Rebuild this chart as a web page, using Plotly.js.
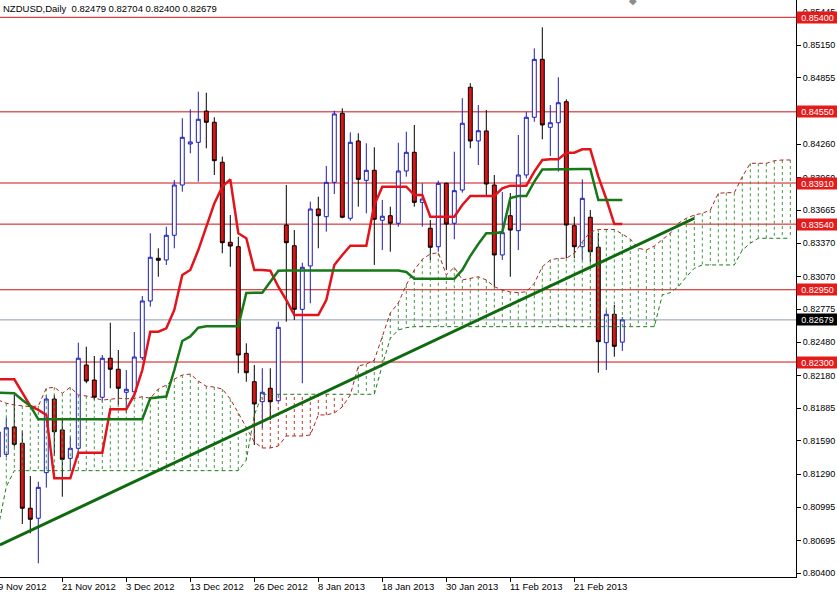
<!DOCTYPE html>
<html><head><meta charset="utf-8">
<script src="https://cdn.plot.ly/plotly-3.0.1.min.js"></script>
<style>html,body{margin:0;padding:0;background:#fff;}#chart{width:837px;height:593px;}</style>
</head><body><div id="chart"></div>
<script>
// ---- data ----
const tickIdx = [0, 8, 16, 24, 32, 40, 48, 56, 64, 72];
const tickLabels = ['9 Nov 2012','21 Nov 2012','3 Dec 2012','13 Dec 2012','26 Dec 2012','8 Jan 2013','18 Jan 2013','30 Jan 2013','11 Feb 2013','21 Feb 2013'];

const openP = [0.81446,0.81470,0.81716,0.81569,0.80985,0.80895,0.81305,0.81967,0.81689,0.81434,
0.81524,0.82273,0.82138,0.81983,0.82334,0.82235,0.82028,0.82033,0.82339,0.82849,
0.83233,0.83218,0.83440,0.83892,0.84261,0.84276,0.84557,0.84456,0.84096,0.83377,
0.83337,0.82378,0.82123,0.81943,0.82064,0.81952,0.83532,0.83346,0.82774,0.83164,
0.83676,0.83607,0.83916,0.84537,0.83593,0.84288,0.83934,0.84024,0.83575,0.83616,
0.83548,0.84018,0.84186,0.83736,0.83503,0.83337,0.83907,0.83548,0.83847,0.84771,
0.84288,0.84378,0.83892,0.83263,0.83616,0.83481,0.83982,0.84501,0.85022,0.84411,
0.84452,0.84641,0.83526,0.83337,0.83602,0.83332,0.82474,0.82729,0.82479];
const highP = [0.81734,0.81797,0.82003,0.81680,0.81275,0.81224,0.82003,0.82003,0.81779,0.81628,
0.82474,0.82438,0.82354,0.82363,0.82654,0.82408,0.82228,0.82570,0.82894,0.83458,
0.83323,0.83517,0.83937,0.84492,0.84573,0.84731,0.84722,0.84501,0.84147,0.83622,
0.83427,0.82468,0.82273,0.82244,0.82244,0.82663,0.83892,0.83487,0.83193,0.83742,
0.83787,0.84063,0.84560,0.84582,0.84366,0.84357,0.84267,0.84231,0.83757,0.83697,
0.84272,0.84371,0.84432,0.83907,0.83577,0.83931,0.83913,0.84191,0.84672,0.84807,
0.84611,0.84567,0.83982,0.83829,0.83820,0.84342,0.84551,0.85121,0.85310,0.84611,
0.84861,0.84663,0.83607,0.83943,0.83667,0.83460,0.82768,0.82813,0.82704];
const lowP = [0.81401,0.81446,0.81539,0.80843,0.80760,0.80490,0.81170,0.81455,0.81089,0.81329,
0.81479,0.82109,0.81958,0.81943,0.82064,0.81914,0.81842,0.81985,0.82318,0.82798,
0.83067,0.83173,0.83323,0.83832,0.84177,0.83922,0.84222,0.83982,0.83278,0.83157,
0.82199,0.82123,0.81554,0.81707,0.81779,0.81943,0.82663,0.82678,0.82109,0.82828,
0.83323,0.83472,0.83811,0.83593,0.83571,0.83697,0.83637,0.83173,0.83307,0.83292,
0.83517,0.83967,0.83697,0.83517,0.83218,0.83292,0.83128,0.83404,0.83823,0.84222,
0.84072,0.83802,0.82975,0.83218,0.83067,0.83307,0.83952,0.84461,0.84303,0.84153,
0.84012,0.83233,0.83233,0.83218,0.83200,0.82204,0.82228,0.82348,0.82400];
const closeP = [0.81671,0.81709,0.81560,0.80985,0.80886,0.81173,0.81967,0.81673,0.81425,0.81524,
0.82334,0.82129,0.81983,0.82334,0.82235,0.82064,0.82055,0.82345,0.82849,0.83242,
0.83215,0.83440,0.83892,0.84321,0.84279,0.84483,0.84456,0.84111,0.83373,0.83343,
0.82363,0.82204,0.81923,0.82028,0.81943,0.82612,0.83373,0.82774,0.83152,0.83676,
0.83616,0.83916,0.84531,0.83602,0.84276,0.83943,0.84024,0.83584,0.83611,0.83548,
0.84018,0.84186,0.83736,0.83766,0.83332,0.83907,0.83541,0.83841,0.84447,0.84288,
0.84380,0.83901,0.83263,0.83463,0.83487,0.83982,0.84501,0.85022,0.84432,0.84452,
0.84632,0.83532,0.83337,0.83772,0.83292,0.82483,0.82729,0.82441,0.82679];

const tenkan = [0.82145,0.82145,0.82145,0.82024,0.81905,0.81869,0.81824,0.81254,0.81254,0.81254,
0.81485,0.81485,0.81485,0.81485,0.81875,0.81875,0.81875,0.82004,0.82228,0.82573,
0.82573,0.82603,0.82768,0.83083,0.83128,0.83307,0.83517,0.83727,0.83877,0.83943,
0.83458,0.83413,0.83128,0.83128,0.83121,0.82977,0.82858,0.82723,0.82723,0.82723,
0.82723,0.82858,0.83173,0.83263,0.83346,0.83346,0.83346,0.83712,0.83877,0.83877,
0.83877,0.83877,0.83802,0.83802,0.83607,0.83607,0.83607,0.83607,0.83712,0.83793,
0.83793,0.83793,0.83793,0.83862,0.83886,0.83886,0.83886,0.84012,0.84117,0.84123,
0.84123,0.84182,0.84182,0.84213,0.84213,0.83967,0.83766,0.83541,0.83541];
const kijun = [0.82024,0.82024,0.82019,0.81958,0.81905,0.81785,0.81785,0.81785,0.81785,0.81785,
0.81785,0.81785,0.81785,0.81785,0.81785,0.81785,0.81785,0.81785,0.81785,0.81974,
0.81985,0.81990,0.82228,0.82489,0.82530,0.82609,0.82621,0.82621,0.82621,0.82621,
0.82621,0.82921,0.82921,0.82924,0.83022,0.83121,0.83123,0.83123,0.83123,0.83123,
0.83123,0.83123,0.83123,0.83123,0.83123,0.83123,0.83123,0.83123,0.83123,0.83123,
0.83123,0.83110,0.83049,0.83049,0.83049,0.83049,0.83049,0.83049,0.83128,0.83254,
0.83361,0.83458,0.83458,0.83469,0.83775,0.83793,0.83793,0.83922,0.84031,0.84033,
0.84036,0.84036,0.84036,0.84036,0.84036,0.83757,0.83757,0.83757,0.83757];
const spanA = [0.81958,0.81929,0.81914,0.81905,0.81898,0.81905,0.82064,0.82073,0.82019,0.82073,
0.82004,0.81995,0.81974,0.81958,0.81965,0.81974,0.81970,0.81974,0.81988,0.81974,
0.82057,0.82093,0.82147,0.82183,0.82192,0.82129,0.82082,0.82075,0.82057,0.81967,
0.81842,0.81716,0.81581,0.81527,0.81527,0.81545,0.81635,0.81635,0.81635,0.81644,
0.81824,0.81824,0.81842,0.81896,0.82004,0.82264,0.82282,0.82318,0.82534,0.82741,
0.82831,0.82993,0.83128,0.83224,0.83272,0.83283,0.83083,0.83152,0.83038,0.83053,
0.83067,0.83038,0.82977,0.82948,0.82930,0.82924,0.82932,0.83008,0.83157,0.83218,
0.83233,0.83233,0.83278,0.83382,0.83469,0.83492,0.83492,0.83492,0.83451,0.83406,
0.83323,0.83307,0.83343,0.83397,0.83458,0.83548,0.83593,0.83622,0.83637,0.83667,
0.83817,0.83823,0.83823,0.83967,0.84087,0.84087,0.84087,0.84110,0.84117,0.84117];
const spanB = [0.80819,0.81179,0.81323,0.81323,0.81323,0.81323,0.81323,0.81323,0.81323,0.81323,
0.81323,0.81323,0.81323,0.81323,0.81323,0.81323,0.81323,0.81323,0.81323,0.81323,
0.81323,0.81323,0.81323,0.81323,0.81323,0.81323,0.81323,0.81323,0.81323,0.81323,
0.81323,0.81419,0.81824,0.82010,0.82010,0.82010,0.82010,0.82010,0.82010,0.82010,
0.82010,0.82010,0.82010,0.82010,0.82010,0.82010,0.82010,0.82010,0.82273,0.82513,
0.82588,0.82609,0.82618,0.82618,0.82618,0.82618,0.82618,0.82618,0.82618,0.82618,
0.82618,0.82618,0.82618,0.82618,0.82618,0.82618,0.82618,0.82618,0.82618,0.82618,
0.82618,0.82618,0.82618,0.82618,0.82618,0.82618,0.82618,0.82618,0.82618,0.82618,
0.82618,0.82618,0.82618,0.82903,0.82924,0.82977,0.83067,0.83143,0.83173,0.83173,
0.83173,0.83173,0.83173,0.83307,0.83368,0.83413,0.83413,0.83413,0.83413,0.83413];

const levels = [0.85400, 0.84550, 0.83910, 0.83540, 0.82950, 0.82300];
const trendX = [0.2, 87];
const trendY = [0.80655, 0.83593];
const yTicks = [0.85445,0.85150,0.84855,0.84560,0.84260,0.83960,0.83665,0.83370,0.83070,0.82775,0.82480,0.82180,0.81885,0.81590,0.81290,0.80995,0.80695,0.80400];
const headerText = 'NZDUSD,Daily\u00a0\u00a00.82479 0.82704 0.82400 0.82679';

// ---- build ----
const X_RANGE = [0.2125, 99.71];
const xIdx = openP.map((_, i) => i);
const cIdx = spanA.map((_, i) => i);
const lastClose = closeP[closeP.length - 1];
const toPaper = t => (t - X_RANGE[0]) / (X_RANGE[1] - X_RANGE[0]);

function hatch(up) {
  const xs = [], ys = [];
  spanA.forEach((a, i) => {
    const b = spanB[i];
    if ((a >= b) === up) { xs.push(i, i, null); ys.push(a, b, null); }
  });
  return {xs, ys};
}
const hg = hatch(true), hr = hatch(false);

const FONT = 'Liberation Sans, Arial, sans-serif';
const traces = [
  {type:'scatter', mode:'lines', x:hg.xs, y:hg.ys, line:{color:'#3f9a3f', width:1, dash:'3px,3px'}, hoverinfo:'skip', showlegend:false},
  {type:'scatter', mode:'lines', x:hr.xs, y:hr.ys, line:{color:'#c0392b', width:1, dash:'3px,3px'}, hoverinfo:'skip', showlegend:false},
  {type:'scatter', mode:'lines', x:cIdx, y:spanA, line:{color:'#b22222', width:1, dash:'4px,3px'}, hoverinfo:'skip', showlegend:false},
  {type:'scatter', mode:'lines', x:cIdx, y:spanB, line:{color:'#1e7a1e', width:1, dash:'4px,3px'}, hoverinfo:'skip', showlegend:false},
  {type:'candlestick', x:xIdx, open:openP, high:highP, low:lowP, close:closeP,
   increasing:{line:{color:'#1c1cb4', width:1}, fillcolor:'#ffffff'},
   decreasing:{line:{color:'#000000', width:1}, fillcolor:'#dd1414'},
   whiskerwidth:0, hoverinfo:'skip', showlegend:false},
  {type:'scatter', mode:'lines', x:xIdx, y:tenkan, line:{color:'#e3131b', width:2.5}, hoverinfo:'skip', showlegend:false},
  {type:'scatter', mode:'lines', x:xIdx, y:kijun, line:{color:'#177817', width:2.5}, hoverinfo:'skip', showlegend:false},
  {type:'scatter', mode:'lines', x:trendX, y:trendY, line:{color:'#0f6a0f', width:3}, hoverinfo:'skip', showlegend:false}
];

const shapes = levels.map(v => ({type:'line', xref:'paper', x0:0, x1:1, yref:'y', y0:v, y1:v, layer:'below', line:{color:'#d01010', width:1}}));
shapes.push({type:'line', xref:'paper', x0:0, x1:1, yref:'y', y0:lastClose, y1:lastClose, layer:'below', line:{color:'#8a9bab', width:1}});

const annotations = [];
levels.forEach(v => annotations.push({xref:'paper', x:1, xanchor:'left', yref:'y', y:v, yanchor:'middle', text:v.toFixed(5), showarrow:false, bgcolor:'#e41b1b', font:{family:FONT, size:9, color:'#ffffff'}, width:39, height:9, borderpad:1, align:'center'}));
annotations.push({xref:'paper', x:1, xanchor:'left', yref:'y', y:lastClose, yanchor:'middle', text:lastClose.toFixed(5), showarrow:false, bgcolor:'#000000', font:{family:FONT, size:9, color:'#ffffff'}, width:39, height:9, borderpad:1, align:'center'});
tickIdx.forEach((t, i) => annotations.push({xref:'paper', x:toPaper(t), xanchor:'left', yref:'paper', y:0, yanchor:'top', yshift:-2, xshift:-2, text:tickLabels[i], showarrow:false, font:{family:FONT, size:9.5, color:'#000000'}}));
annotations.push({xref:'paper', x:0, xanchor:'left', yref:'paper', y:1, yanchor:'top', xshift:1, yshift:-1, text:headerText, showarrow:false, font:{family:FONT, size:9.5, color:'#000000'}});
annotations.push({xref:'paper', x:0.795, xanchor:'center', yref:'paper', y:1, yanchor:'middle', text:'\u25C6', showarrow:false, font:{family:'DejaVu Sans', size:10, color:'#8c8c8c'}});

const layout = {
  width:837, height:593,
  margin:{l:0, r:41, t:0, b:16, pad:0},
  paper_bgcolor:'#ffffff', plot_bgcolor:'#ffffff',
  showlegend:false, hovermode:false,
  font:{family:FONT, size:9, color:'#000'},
  xaxis:{range:X_RANGE, showgrid:false, zeroline:false, tickvals:tickIdx, showticklabels:false,
         ticks:'outside', ticklen:4, tickcolor:'#000', showline:true, linecolor:'#000', linewidth:1,
         rangeslider:{visible:false}, fixedrange:true},
  yaxis:{side:'right', range:[0.803667, 0.855557], showgrid:false, zeroline:false,
         tickvals:yTicks, ticktext:yTicks.map(v => v.toFixed(5)), ticks:'outside', ticklen:4, tickcolor:'#000',
         showline:true, linecolor:'#000', linewidth:1, tickfont:{family:FONT, size:9, color:'#000'}, fixedrange:true},
  shapes:shapes, annotations:annotations
};

Plotly.newPlot('chart', traces, layout, {staticPlot:true, displayModeBar:false});
</script>
</body></html>
